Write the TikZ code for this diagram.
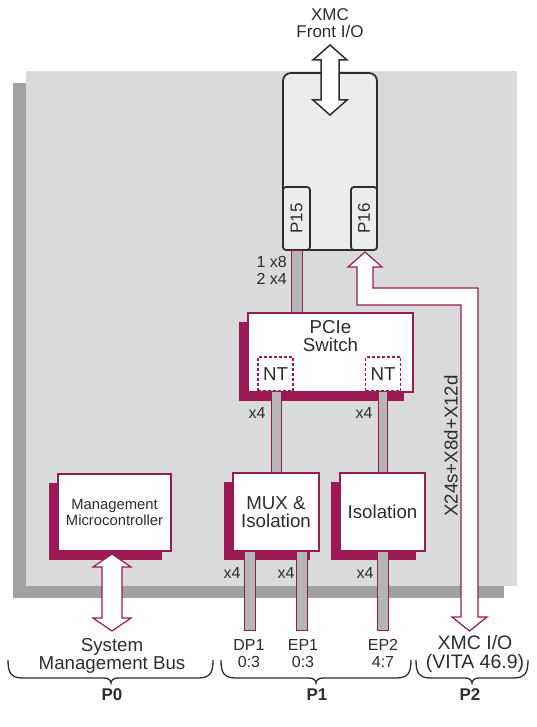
\documentclass[tikz,border=0pt]{standalone}
\usepackage{fontspec}
\setmainfont{Liberation Sans}
\usetikzlibrary{shadows,calc}
\definecolor{crim}{RGB}{155,25,85}
\definecolor{boardg}{RGB}{217,218,218}
\definecolor{shadg}{RGB}{160,161,161}
\definecolor{barg}{RGB}{180,181,181}
\definecolor{modg}{RGB}{235,236,236}
\definecolor{txtg}{RGB}{45,45,45}
\newcommand\fszA{\fontsize{16}{17}\selectfont}
\newcommand\fszF{\fontsize{17}{17}\selectfont}
\newcommand\fszB{\fontsize{18.7}{18.6}\selectfont}
\newcommand\fszC{\fontsize{18.7}{18.6}\selectfont}
\newcommand\fszX{\fontsize{19.5}{19}\selectfont}
\newcommand\fszM{\fontsize{14.8}{15.5}\selectfont}
\newcommand\fszQ{\fontsize{17}{17}\selectfont}
\newcommand\pbrace[3]{%
  \draw[brc] (#1,660) .. controls +(0,13) and +(-12,0) .. (#1+15,678)
    -- (#3-7,678) .. controls +(4,0) and +(0,-3) .. (#3,683)
    .. controls +(0,-3) and +(-4,0) .. (#3+7,678)
    -- (#2-15,678) .. controls +(12,0) and +(0,13) .. (#2,660);}
\begin{document}
\begin{tikzpicture}[x=1pt,y=-1pt,
  txt/.style={text=txtg,inner sep=0pt,align=center},
  wbox/.style={draw=crim,line width=1.2pt,fill=white,inner sep=0pt,align=center,text=txtg,
    general shadow={fill=crim,shadow xshift=-9pt,shadow yshift=-9pt}},
  ntbox/.style={draw=crim,line width=1.2pt,dash pattern=on 3pt off 2pt,fill=white,inner sep=0pt,
    minimum width=35pt,minimum height=34pt,text=txtg,font=\fszB},
  bar/.style={draw=crim,line width=1pt,fill=barg},
  pbox/.style={draw=txtg,line width=1.8pt,fill=modg,rounded corners=3pt,inner sep=0pt,
    minimum height=63pt},
  hollow/.style={fill=white,draw=crim,line width=1.2pt,line join=miter},
  brc/.style={draw=txtg,line width=1.3pt}]
\useasboundingbox (0,0) rectangle (537,727);
% board
\fill[shadg] (13,83) rectangle (504,598);
\fill[boardg] (26,71) rectangle (517,586);
% XMC module
\node[draw=txtg,line width=1.8pt,fill=modg,rounded corners=8pt,minimum width=94pt,minimum height=177pt,inner sep=0pt] (xmc) at (330,161.5) {};
\node[pbox,minimum width=27pt] (p15) at (296.5,218.5) {};
\node[pbox,minimum width=26pt] (p16) at (364,218.5) {};
\node[txt,font=\fszQ,rotate=90] (p15t) at (p15.center) {P15};
\node[txt,font=\fszQ,rotate=90] (p16t) at (p16.center) {P16};
\node[txt,font=\fszF] (front) at (330,23) {XMC\\Front I/O};
% front double arrow
\coordinate (ftip) at (330,45);
\draw[fill=white,draw=txtg,line width=1.5pt,line join=miter] (ftip) -- ++(17,15) -- ++(-8,0) -- ++(0,40) -- ++(8,0) -- ++(-17,15) -- ++(-17,-15) -- ++(8,0) -- ++(0,-40) -- ++(-8,0) -- cycle;
% P16 to P2 arrow
\coordinate (p16tip) at (365,252);
\coordinate (p2tip) at (469.5,631);
\draw[hollow] (p16tip) -- ++(17,15) -- ++(-9,0) -- (373,288) -- (478,288) -- (478,617) -- (487,617)
  -- (p2tip) -- (452,617) -- (461,617) -- (461,305) -- (357,305) -- (357,267) -- (348,267) -- cycle;
\node[txt,font=\fszC,rotate=90] (xsig) at (451,446) {X24s+X8d+X12d};
% boxes
\node[wbox,minimum width=165pt,minimum height=79pt] (pcie) at (330.5,352.5) {};
\node[txt,font=\fszB] (pciet) at (330.5,336) {PCIe\\Switch};
\node[ntbox] (nt1) at (275.5,374) {NT};
\node[ntbox] (nt2) at (383,374) {NT};
\node[wbox,minimum width=86pt,minimum height=78pt,font=\fszB] (mux) at (276,512) {MUX \&\\Isolation};
\node[wbox,minimum width=85pt,minimum height=78pt,font=\fszB] (iso) at (382.5,512) {Isolation};
\node[wbox,minimum width=113pt,minimum height=77pt,font=\fszM] (mgmt) at (114.5,512.5) {Management\\Microcontroller};
% management double arrow
\coordinate (mtip) at (112,554);
\draw[hollow] (mtip) -- ++(19,13) -- ++(-9,0) -- ++(0,51) -- ++(9,0) -- ++(-19,13) -- ++(-19,-13) -- ++(9,0) -- ++(0,-51) -- ++(-9,0) -- cycle;
% bars
\coordinate (dp1) at (249.5,630);
\coordinate (ep1) at (302,630);
\coordinate (ep2) at (382.5,630);
\draw[bar] ([xshift=-5.5pt]p15.south) rectangle ([xshift=5.5pt]p15.south |- pcie.north);
\draw[bar] ($(nt1.south)+(-4.5,0)$) rectangle ($(nt1.south |- mux.north)+(5.5,0)$);
\draw[bar] ($(nt2.south)+(-5,0)$) rectangle ($(nt2.south |- iso.north)+(4.5,0)$);
\draw[bar] ($(dp1 |- mux.south)+(-5.5,0)$) rectangle ($(dp1)+(5.5,0)$);
\draw[bar] ($(ep1 |- mux.south)+(-5.5,0)$) rectangle ($(ep1)+(5.5,0)$);
\draw[bar] ($(ep2 |- iso.south)+(-5.5,0)$) rectangle ($(ep2)+(5.5,0)$);
% link labels
\node[txt,font=\fszA,align=right,anchor=east] (l18) at (287,270.5) {1 x8\\2 x4};
\node[txt,font=\fszA] (x4a) at (257,413) {x4};
\node[txt,font=\fszA] (x4b) at (364,413) {x4};
\node[txt,font=\fszA] (x4c) at (232,573) {x4};
\node[txt,font=\fszA] (x4d) at (286,573) {x4};
\node[txt,font=\fszA] (x4e) at (365,573) {x4};
% bottom labels
\node[txt,font=\fszA] (dp1t) at (249,653.5) {DP1\\0:3};
\node[txt,font=\fszA] (ep1t) at (303,653.5) {EP1\\0:3};
\node[txt,font=\fszA] (ep2t) at (383,653.5) {EP2\\4:7};
\node[txt,font=\fszC] (smb) at (112,656) {System\\Management Bus};
\node[txt,font=\fszX] (xio) at (475,654) {XMC I/O\\(VITA 46.9)};
\pbrace{8}{213}{111}
\pbrace{221}{411}{316}
\pbrace{416}{528}{472}
\node[txt,font=\bfseries\fszQ] (P0) at (112,695) {P0};
\node[txt,font=\bfseries\fszQ] (P1) at (317,695) {P1};
\node[txt,font=\bfseries\fszQ] (P2) at (470,695) {P2};
\end{tikzpicture}
\end{document}
